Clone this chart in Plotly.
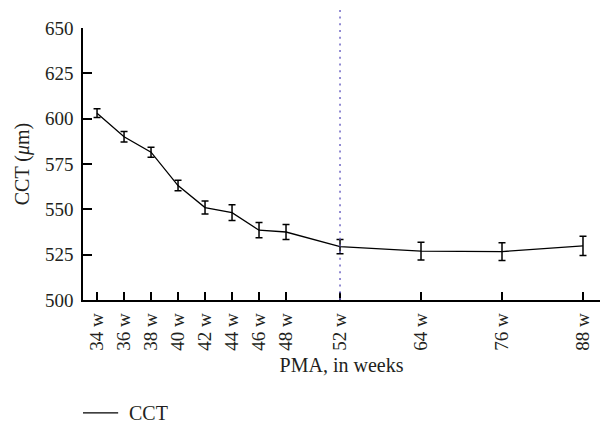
import plotly.graph_objects as go

weeks = ["34 w", "36 w", "38 w", "40 w", "42 w", "44 w", "46 w", "48 w", "52 w", "64 w", "76 w", "88 w"]
slots = [0, 1, 2, 3, 4, 5, 6, 7, 9, 12, 15, 18]
cct = [603.0, 590.0, 581.5, 563.1, 551.0, 548.2, 538.5, 537.5, 529.4, 527.0, 526.7, 529.8]
err = [2.4, 2.9, 2.8, 2.9, 3.6, 4.3, 4.2, 4.2, 3.9, 4.9, 4.9, 5.3]
y_ticks = [500, 525, 550, 575, 600, 625, 650]
series_name = "CCT"
marker_week_slot = 9

FONT = "Liberation Serif"
TXT = "#231f20"

fig = go.Figure()
fig.add_trace(go.Scatter(
    x=slots, y=cct, mode="lines", name=series_name, showlegend=False,
    line=dict(color="black", width=1.3),
    error_y=dict(type="data", array=err, visible=True, color="black", thickness=1.5, width=3.5),
))

fig.add_shape(type="line", xref="x", yref="paper", x0=marker_week_slot, x1=marker_week_slot,
              y0=0, y1=1.077, line=dict(color="#6f66c4", width=1.5, dash="2px,4.7px"))

# legend drawn below the axis (sample line + label)
fig.add_shape(type="line", xref="paper", yref="paper", x0=0.0, x1=0.068, y0=-0.415, y1=-0.415,
              line=dict(color="black", width=1.3))
fig.add_annotation(xref="paper", yref="paper", x=0.085, y=-0.415, xanchor="left", yanchor="middle",
                   text=series_name, showarrow=False, font=dict(family=FONT, size=20, color=TXT))

fig.update_layout(
    width=601, height=425,
    margin=dict(l=83, r=1, t=28, b=125),
    paper_bgcolor="white", plot_bgcolor="white",
    font=dict(family=FONT, size=19, color=TXT),
    showlegend=False,
    xaxis=dict(range=[-0.52, 18.63], tickmode="array", tickvals=slots, ticktext=weeks,
               tickangle=-90, ticks="inside", ticklen=8, tickwidth=1.5, tickcolor="black",
               ticklabelstandoff=4,
               showline=True, linecolor="black", linewidth=1.5, showgrid=False, zeroline=False,
               title=dict(text="PMA, in weeks", font=dict(family=FONT, size=20, color=TXT), standoff=8),
               tickfont=dict(family=FONT, size=19, color=TXT)),
    yaxis=dict(range=[500, 650], tickmode="array", tickvals=y_ticks,
               ticks="inside", ticklen=9, tickwidth=1.5, tickcolor="black",
               ticklabelstandoff=4,
               showline=True, linecolor="black", linewidth=1.5, showgrid=False, zeroline=False,
               title=dict(text="CCT (<i>μ</i>m)", font=dict(family=FONT, size=20, color=TXT), standoff=10),
               tickfont=dict(family=FONT, size=19, color=TXT)),
)

fig.write_html("out.html")
